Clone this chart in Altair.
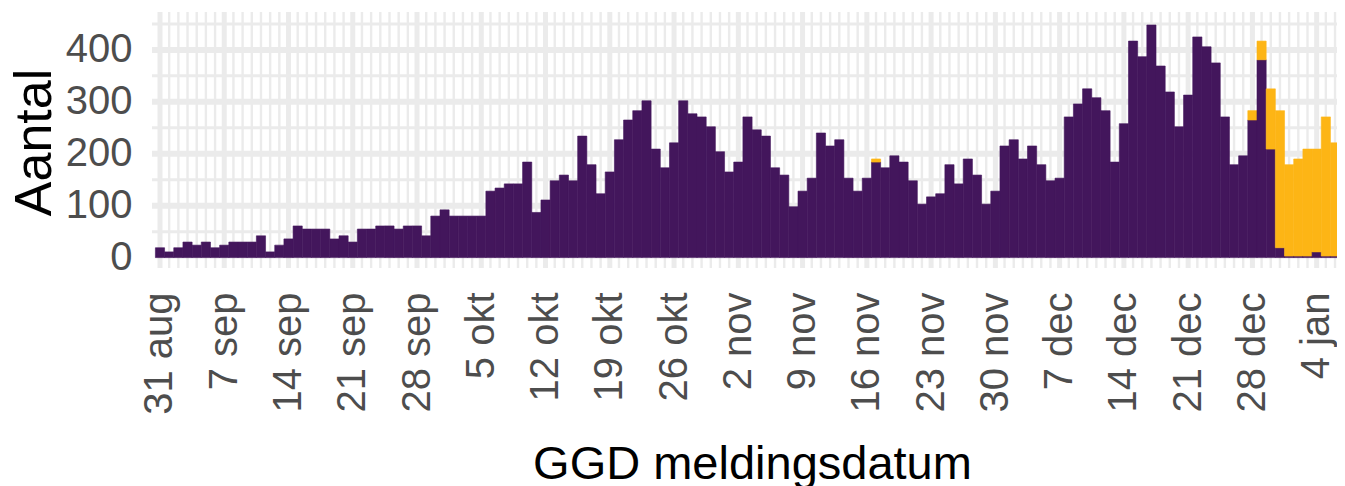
import altair as alt
import pandas as pd

# weekly tick labels (day index 0 = 31 aug)
week_labels = ["31 aug", "7 sep", "14 sep", "21 sep", "28 sep", "5 okt", "12 okt",
               "19 okt", "26 okt", "2 nov", "9 nov", "16 nov", "23 nov", "30 nov",
               "7 dec", "14 dec", "21 dec", "28 dec", "4 jan"]
week_days = [0, 7, 14, 21, 28, 35, 42, 49, 56, 63, 70, 77, 84, 91, 98, 105, 112, 119, 126]

# daily counts, 31 aug .. 7 jan
purple = [19, 11, 19, 30, 24, 30, 19, 24, 30, 30,
          30, 42, 11, 24, 36, 61, 55, 55, 55, 36,
          42, 30, 55, 55, 61, 61, 55, 61, 61, 42,
          80, 92, 80, 80, 80, 80, 128, 134, 142, 142,
          184, 87, 111, 148, 159, 148, 234, 179, 123, 165,
          227, 265, 283, 302, 209, 173, 221, 302, 277, 271,
          252, 204, 165, 184, 271, 246, 234, 173, 159, 98,
          128, 153, 240, 215, 227, 153, 128, 153, 184, 173,
          196, 184, 148, 103, 117, 123, 179, 142, 190, 159,
          103, 128, 215, 227, 190, 215, 179, 148, 153, 271,
          296, 325, 308, 283, 184, 258, 417, 387, 448, 369,
          319, 252, 313, 425, 406, 375, 271, 179, 196, 265,
          381, 209, 19, 3, 3, 3, 11, 3, 3, 3]
orange = [0] * 78 + [6] + [0] * 40 + [18, 36, 116, 264, 176, 187, 206, 198, 268, 218, 33]

series_names = ["eerder gemeld", "nieuw gemeld"]
series_colors = ["#43165C", "#FDB515"]

y_major = [100, 200, 300, 400]
y_minor = [50, 150, 250, 350, 450]
y_ticks = [0, 100, 200, 300, 400]
minor_days = [d for d in range(0, 129) if d % 7 != 0]

rows = []
for d, (p, o) in enumerate(zip(purple, orange)):
    rows.append({"day": d, "serie": series_names[0], "y0": 0, "y1": p})
    if o > 0:
        rows.append({"day": d, "serie": series_names[1], "y0": p, "y1": p + o})
df = pd.DataFrame(rows)

FONT = "Liberation Sans"
W, H = 1185, 256
x_scale = alt.Scale(domain=[-0.87, -0.87 + W / 9.18], nice=False, zero=False)
y_scale = alt.Scale(domain=[-20, 473], nice=False, zero=False)
GRID = "#EBEBEB"

label_js = "[" + ",".join("'%s'" % l for l in week_labels) + "][round(datum.value / 7)]"

x_axis = alt.Axis(values=week_days, labelExpr=label_js, labelAngle=270,
                  labelAlign="right", labelBaseline="middle", labelFontSize=40,
                  labelColor="#4D4D4D", labelPadding=24, ticks=False, domain=False,
                  grid=False, labelOverlap=False, labelFlush=False,
                  title="GGD meldingsdatum", titleFontSize=47, titleColor="black",
                  titleFontWeight="normal", titleX=600, titleY=210,
                  titleAlign="center", titleBaseline="alphabetic")
y_axis = alt.Axis(values=y_ticks, labelFontSize=40, labelColor="#4D4D4D",
                  labelPadding=20, ticks=False, domain=False, grid=False,
                  title="Aantal", titleFontSize=52, titleColor="black",
                  titleFontWeight="normal", titleAngle=270, titleX=-102,
                  titleY=130, titleAlign="center", titleBaseline="alphabetic")

vmaj = alt.Chart(pd.DataFrame({"day": week_days})).mark_rule(color=GRID, strokeWidth=5).encode(
    x=alt.X("day:Q", scale=x_scale, axis=x_axis))
vmin = alt.Chart(pd.DataFrame({"day": minor_days})).mark_rule(color=GRID, strokeWidth=2.4).encode(
    x=alt.X("day:Q", scale=x_scale, axis=x_axis))
hmaj = alt.Chart(pd.DataFrame({"v": y_major})).mark_rule(color=GRID, strokeWidth=6).encode(
    y=alt.Y("v:Q", scale=y_scale, axis=y_axis))
hmin = alt.Chart(pd.DataFrame({"v": y_minor})).mark_rule(color=GRID, strokeWidth=3).encode(
    y=alt.Y("v:Q", scale=y_scale, axis=y_axis))

color_scale = alt.Scale(domain=series_names, range=series_colors)

bars = alt.Chart(df).transform_calculate(
    xa="datum.day - 0.5", xb="datum.day + 0.5"
).mark_bar(clip=True, strokeWidth=0.6).encode(
    x=alt.X("xa:Q", scale=x_scale, axis=x_axis),
    x2="xb:Q",
    y=alt.Y("y0:Q", scale=y_scale, axis=y_axis),
    y2="y1:Q",
    color=alt.Color("serie:N", scale=color_scale, legend=None),
    stroke=alt.Stroke("serie:N", scale=color_scale, legend=None),
)

chart = alt.layer(vmin, vmaj, hmin, hmaj, bars).properties(
    width=W, height=H,
    padding={"left": 144, "top": 4, "right": 0, "bottom": 218},
    autosize=alt.AutoSizeParams(type="none"),
    background="white",
).configure_view(stroke=None).configure_axis(labelFont=FONT, titleFont=FONT)

chart.save("out.html", embed_options={"renderer": "svg", "actions": False})
